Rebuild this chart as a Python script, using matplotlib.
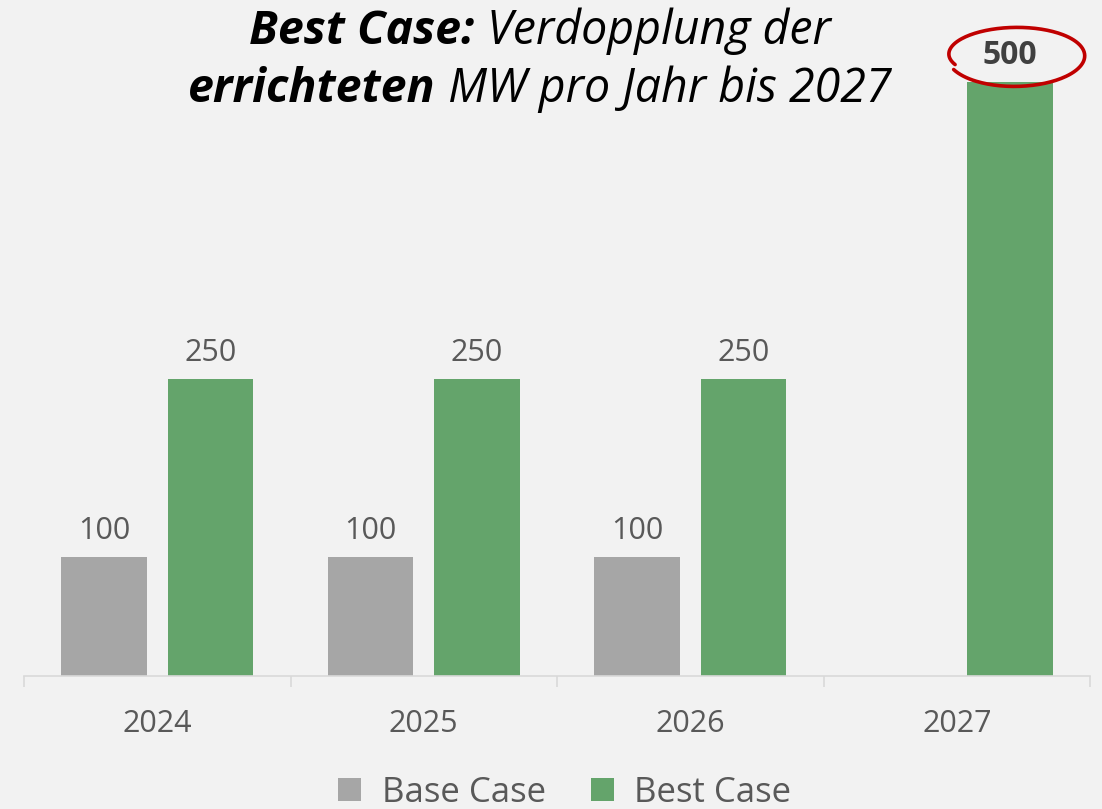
import matplotlib.pyplot as plt
import numpy as np

years = ['2024', '2025', '2026', '2027']
base_case = [100, 100, 100, None]
best_case = [250, 250, 250, 500]

GREY = '#a6a6a6'
GREEN = '#64a46b'
BG = '#f2f2f2'
TXT = '#595959'
FONT = 'Open Sans'

plt.rcParams['font.family'] = FONT

W, H = 1102, 809
fig = plt.figure(figsize=(W / 100, H / 100), dpi=100, facecolor=BG)


def fx(px):
    return px / W


def fy(py):
    return 1 - py / H


# Achsenbereich in Pixeln: links 24, rechts 1090, Basis 676, 500er-Linie 82
ax = fig.add_axes([fx(24), fy(676), fx(1090 - 24), fy(82) - fy(676)])
ax.set_facecolor(BG)

x = np.arange(len(years))
bw = 0.32
off = 0.2

base_x = [xi - off for xi, v in zip(x, base_case) if v is not None]
base_v = [v for v in base_case if v is not None]
b1 = ax.bar(base_x, base_v, width=bw, color=GREY, label='Base Case')
b2 = ax.bar(x + off, best_case, width=bw, color=GREEN, label='Best Case')

# Datenbeschriftungen
for xi, v in zip(base_x, base_v):
    ax.annotate(str(v), (xi, v), xytext=(0, 13), textcoords='offset points',
                ha='center', va='baseline', fontsize=22, color=TXT)
for xi, v in zip(x + off, best_case):
    hervor = v == max(best_case)
    ax.annotate(str(v), (xi, v), xytext=(0, 13), textcoords='offset points',
                ha='center', va='baseline', fontsize=23 if hervor else 22,
                color='#404040' if hervor else TXT,
                fontweight='bold' if hervor else 'normal',
                annotation_clip=False)

ax.set_xlim(-0.5, len(years) - 0.5)
ax.set_ylim(0, 500)
ax.set_yticks([])
for s in ['top', 'right', 'left']:
    ax.spines[s].set_visible(False)
ax.spines['bottom'].set_color('#d9d9d9')
ax.spines['bottom'].set_linewidth(1.2)

ax.set_xticks(x)
ax.set_xticklabels(years, fontsize=22, color=TXT)
ax.tick_params(axis='x', which='major', length=0, pad=24)
ax.set_xticks(np.arange(len(years) + 1) - 0.5, minor=True)
ax.tick_params(axis='x', which='minor', length=8, width=1.2, color='#d9d9d9')

# Legende
fig.legend(handles=[b1, b2], loc='center', bbox_to_anchor=(fx(565), fy(793)),
           ncol=2, frameon=False, fontsize=25, labelcolor=TXT,
           handlelength=0.65, handleheight=0.65, handletextpad=0.6, columnspacing=1.3)

# Titel aus fett-kursiven und kursiven Teilen
title_lines = [('Best Case:', ' Verdopplung der', 44),
               ('errichteten', ' MW pro Jahr bis 2027', 102)]
fig.canvas.draw()
r = fig.canvas.get_renderer()
for bold_part, rest, base_y in title_lines:
    t1 = fig.text(0, fy(base_y), bold_part, fontsize=33.5, fontweight='bold',
                  fontstyle='italic', va='baseline', ha='left')
    t2 = fig.text(0, fy(base_y), rest, fontsize=33.5, fontstyle='italic',
                  va='baseline', ha='left')
    w1 = t1.get_window_extent(r).width
    w2 = t2.get_window_extent(r).width
    left = 540 - (w1 + w2) / 2
    t1.set_x(fx(left))
    t2.set_x(fx(left + w1))

# roter Kreis um die 500
t = np.radians(np.linspace(205, 565, 200))
frac = (t - t[0]) / (t[-1] - t[0])
rx = 71 - 6 * frac
ry = 32 - 7 * frac
cx = 1018 - 4 * frac
cy = 56 - 2 * frac
ex = cx + rx * np.cos(t)
ey = cy - ry * np.sin(t)
fig.add_artist(plt.Line2D(fx(ex), fy(ey), color='#c00000', lw=2.6,
                          solid_capstyle='round'))

fig.savefig('out.png', dpi=100, facecolor=BG)
